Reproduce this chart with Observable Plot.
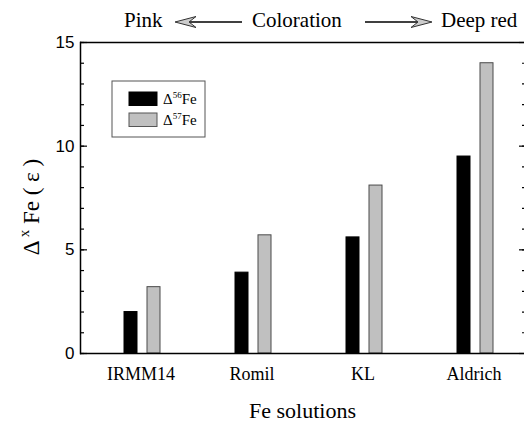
<!DOCTYPE html>
<html>
<head>
<meta charset="utf-8">
<script src="https://cdn.jsdelivr.net/npm/d3@7"></script>
<script src="https://cdn.jsdelivr.net/npm/@observablehq/plot@0.6"></script>
<style>
  html, body { margin: 0; padding: 0; background: #fff; }
  #chart svg { display: block; }
</style>
</head>
<body>
<div id="chart"></div>
<script>
// ---- data ----
const categories = ["IRMM14", "Romil", "KL", "Aldrich"];
const series = ["Δ56Fe", "Δ57Fe"];
const delta56 = [2.0, 3.9, 5.6, 9.5];
const delta57 = [3.2, 5.7, 8.1, 14.0];
const yMajorTicks = [0, 5, 10, 15];
const yMinorTicks = d3.range(0, 16, 1);
const xLabel = "Fe solutions";
const annotation = ["Pink", "Coloration", "Deep red"];

const data = categories.flatMap((c, i) => [
  {cat: c, series: series[0], value: delta56[i]},
  {cat: c, series: series[1], value: delta57[i]}
]);

const serif = "'Liberation Serif', 'Times New Roman', serif";
const sans = "'Liberation Sans', Arial, sans-serif";

const plot = Plot.plot({
  width: 524,
  height: 424,
  marginTop: 42,
  marginRight: 0,
  marginBottom: 71,
  marginLeft: 79,
  style: {fontFamily: serif, fontSize: "18px", color: "#000", background: "#fff", overflow: "visible"},
  fx: {domain: categories, paddingInner: 0, paddingOuter: 0, axis: null},
  x: {domain: series, paddingInner: 0.435, paddingOuter: 1.565, align: 0.593, axis: null},
  y: {domain: [0, 15], axis: null},
  color: {domain: series, range: ["#000000", "#c0c0c0"]},
  marks: [
    Plot.barY(data, {
      fx: "cat", x: "series", y: "value", fill: "series",
      stroke: d => d.series === series[0] ? "#000" : "#4a4a4a", strokeWidth: 1
    }),
    // category labels
    Plot.text(categories, {fx: d => d, text: d => d, frameAnchor: "bottom", dx: 5, dy: 26, fontSize: 18, fontFamily: serif}),
    // left axis ticks (inward)
    Plot.axisY(yMinorTicks, {anchor: "left", tickSize: -4, tickFormat: () => "", label: null, strokeWidth: 1.2}),
    Plot.axisY(yMajorTicks, {anchor: "left", tickSize: -7, tickFormat: () => "", label: null, strokeWidth: 1.2}),
    Plot.axisY(yMajorTicks, {anchor: "left", tickSize: 0, tickPadding: 6, label: null, fontSize: 17, fontFamily: sans}),
    // right axis ticks (inward, no labels)
    Plot.axisY(yMinorTicks, {anchor: "right", tickSize: -3, tickFormat: () => "", label: null, strokeWidth: 1.2}),
    Plot.axisY(yMajorTicks, {anchor: "right", tickSize: -6, tickFormat: () => "", label: null, strokeWidth: 1.2}),
    // frame lines
    Plot.frame({anchor: "left", facetAnchor: "left", strokeWidth: 1.5}),
    Plot.ruleY([0, 15], {strokeWidth: 1.5}),
    // x label
    Plot.text([xLabel], {facet: "super", frameAnchor: "bottom", dy: 64, fontSize: 22, fontFamily: serif, text: d => d})
  ]
});

document.getElementById("chart").appendChild(plot);

const svg = d3.select(plot);
const color = plot.scale("color");

// ---- y label with superscript ----
const yl = svg.append("text")
  .attr("transform", "translate(39,207) rotate(-90)")
  .attr("text-anchor", "middle")
  .attr("font-family", serif)
  .attr("font-size", 23)
  .attr("fill", "#000");
yl.append("tspan").text("Δ");
yl.append("tspan").attr("dy", -10).attr("font-size", 15).attr("dx", 3).text("x");
yl.append("tspan").attr("dy", 10).text(" Fe ( ε )");

// ---- legend ----
const lg = svg.append("g").attr("text-anchor", "start");
lg.append("rect").attr("x", 112).attr("y", 81).attr("width", 93).attr("height", 56)
  .attr("fill", "#fff").attr("stroke", "#555").attr("stroke-width", 1);
series.forEach((s, i) => {
  const y0 = i === 0 ? 92 : 113;
  lg.append("rect").attr("x", 129).attr("y", y0).attr("width", 28).attr("height", 13.5)
    .attr("fill", color.apply(s)).attr("stroke", i === 0 ? "#000" : "#555").attr("stroke-width", 1);
  const t = lg.append("text").attr("x", 163).attr("y", i === 0 ? 104 : 125)
    .attr("text-anchor", "start")
    .attr("font-family", serif).attr("font-size", 15).attr("fill", "#000");
  t.append("tspan").text("Δ");
  t.append("tspan").attr("dy", -6).attr("font-size", 9).text(s.slice(1, 3));
  t.append("tspan").attr("dy", 6).text(s.slice(3));
});

// ---- top annotation ----
const ann = svg.append("g").attr("font-family", serif).attr("font-size", 21).attr("fill", "#000").attr("text-anchor", "start");
ann.append("text").attr("x", 124).attr("y", 27).text(annotation[0]);
ann.append("text").attr("x", 252).attr("y", 27).text(annotation[1]);
ann.append("text").attr("x", 441).attr("y", 27).text(annotation[2]);
// arrows
ann.append("line").attr("x1", 188).attr("x2", 242).attr("y1", 22).attr("y2", 22).attr("stroke", "#000").attr("stroke-width", 1.5);
ann.append("path").attr("d", "M175,22 L196,16.5 L189,22 L196,27.5 Z").attr("fill", "#ccc").attr("stroke", "#333").attr("stroke-width", 1);
ann.append("line").attr("x1", 365).attr("x2", 418).attr("y1", 22).attr("y2", 22).attr("stroke", "#000").attr("stroke-width", 1.5);
ann.append("path").attr("d", "M432,22 L411,16.5 L418,22 L411,27.5 Z").attr("fill", "#ccc").attr("stroke", "#333").attr("stroke-width", 1);
</script>
</body>
</html>
